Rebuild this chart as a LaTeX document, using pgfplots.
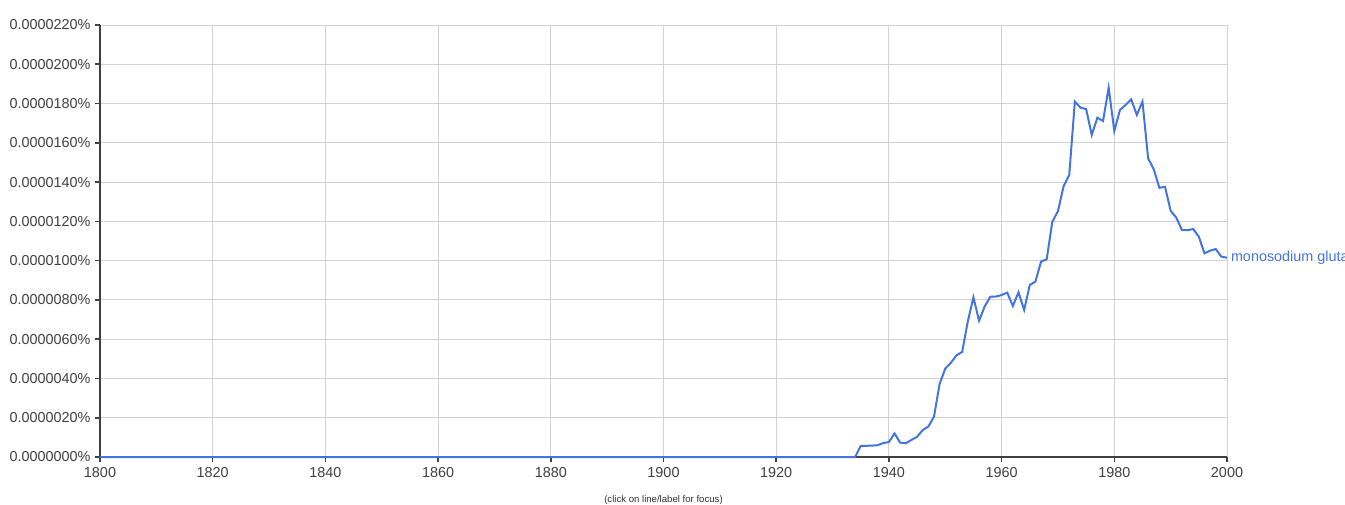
\documentclass[border=0pt]{standalone}
\usepackage{pgfplots}
\pgfplotsset{compat=1.18}
\usepackage{fontspec}
\setmainfont{Liberation Sans}
\definecolor{ngblue}{RGB}{68,117,222}
\definecolor{tickgray}{RGB}{64,64,64}
\definecolor{gridgray}{RGB}{210,210,210}
\begin{document}
\begin{tikzpicture}
\begin{axis}[
  scale only axis, width=563.5pt, height=216pt,
  xmin=1800, xmax=2000, ymin=0, ymax=22,
  xtick={1800,1820,...,2000},
  xticklabels={1800,1820,1840,1860,1880,1900,1920,1940,1960,1980,2000},
  ytick={0,2,...,22},
  yticklabels={0.0000000\%,0.0000020\%,0.0000040\%,0.0000060\%,0.0000080\%,0.0000100\%,0.0000120\%,0.0000140\%,0.0000160\%,0.0000180\%,0.0000200\%,0.0000220\%},
  axis x line*=bottom, axis y line*=left,
  axis line style={draw=black!75, line width=1pt, -},
  grid=major, major grid style={draw=gridgray, line width=0.5pt},
  tick style={draw=black!75, line width=0.8pt},
  major tick length=2.7pt, tick align=outside,
  ticklabel style={font=\fontsize{7.2}{8}\selectfont, text=tickgray},
  xticklabel style={yshift=1pt},
  yticklabel style={xshift=1.5pt},
  xlabel={(click on line/label for focus)},
  xlabel style={font=\fontsize{4.8}{6}\selectfont, text=black!80, yshift=-2pt},
  clip=false,
]
\addplot[ngblue, line width=1pt] coordinates {
(1800,0) (1934,0) (1935,0.56) (1936,0.57) (1937,0.58) (1938,0.60) (1939,0.71) (1940,0.76) (1941,1.20) (1942,0.73) (1943,0.70) (1944,0.87) (1945,1.03) (1946,1.37) (1947,1.55) (1948,2.05) (1949,3.72) (1950,4.50) (1951,4.80) (1952,5.18) (1953,5.35) (1954,6.90) (1955,8.13) (1956,6.94) (1957,7.67) (1958,8.16) (1959,8.17) (1960,8.25) (1961,8.37) (1962,7.69) (1963,8.39) (1964,7.49) (1965,8.76) (1966,8.93) (1967,9.95) (1968,10.07) (1969,11.98) (1970,12.52) (1971,13.79) (1972,14.36) (1973,18.10) (1974,17.79) (1975,17.72) (1976,16.40) (1977,17.28) (1978,17.11) (1979,18.81) (1980,16.60) (1981,17.67) (1982,17.93) (1983,18.21) (1984,17.42) (1985,18.10) (1986,15.21) (1987,14.65) (1988,13.71) (1989,13.76) (1990,12.54) (1991,12.19) (1992,11.56) (1993,11.55) (1994,11.61) (1995,11.22) (1996,10.37) (1997,10.51) (1998,10.59) (1999,10.20) (2000,10.15)
} node[pos=1, anchor=west, inner sep=1.5pt, text=ngblue, font=\fontsize{7.2}{8}\selectfont] {monosodium glutamate};
\end{axis}
\pgfresetboundingbox
\useasboundingbox (-50pt,-23.5pt) rectangle (622.5pt,228.5pt);
\end{tikzpicture}
\end{document}
